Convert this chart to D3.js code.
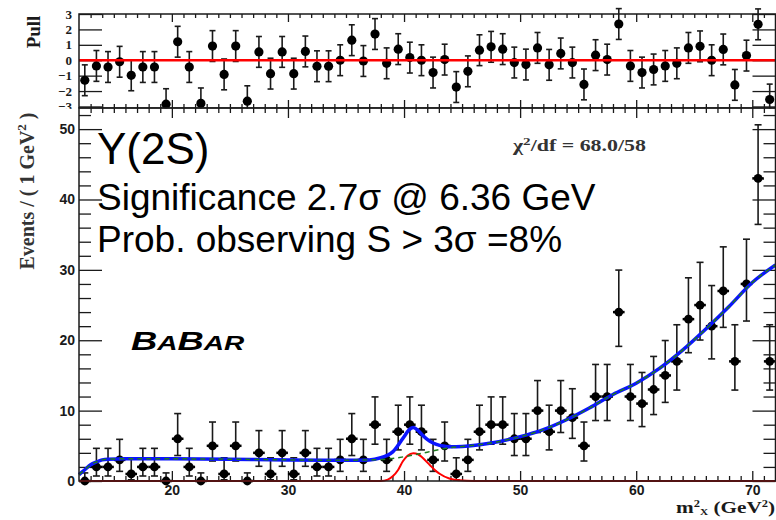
<!DOCTYPE html>
<html>
<head>
<meta charset="utf-8">
<script src="https://cdn.jsdelivr.net/npm/d3@7"></script>
<style>
  body { margin: 0; background: #fff; }
  svg { display: block; }
</style>
</head>
<body>
<div id="chart"></div>
<script>
// data: 1 GeV^2 bins from 12 to 72
var binCenters = [12.5, 13.5, 14.5, 15.5, 16.5, 17.5, 18.5, 19.5, 20.5, 21.5,
                  22.5, 23.5, 24.5, 25.5, 26.5, 27.5, 28.5, 29.5, 30.5, 31.5,
                  32.5, 33.5, 34.5, 35.5, 36.5, 37.5, 38.5, 39.5, 40.5, 41.5,
                  42.5, 43.5, 44.5, 45.5, 46.5, 47.5, 48.5, 49.5, 50.5, 51.5,
                  52.5, 53.5, 54.5, 55.5, 56.5, 57.5, 58.5, 59.5, 60.5, 61.5,
                  62.5, 63.5, 64.5, 65.5, 66.5, 67.5, 68.5, 69.5, 70.5, 71.5];

var events = [0, 2, 2, 3, 1, 2, 2, 0, 6, 2,
              0, 5, 1, 5, 0, 4, 1, 4, 1, 4,
              2, 2, 3, 6, 3, 8, 3, 7, 8, 7,
              3, 5, 1, 3, 7, 8, 8, 6, 6, 10,
              7, 10, 9, 5, 12, 12, 24, 12, 11, 13,
              15, 17, 23, 25, 22, 27, 17, 28, 43, 17];

var pulls = [-1.3, -0.37, -0.44, -0.1, -0.98, -0.44, -0.44, -2.85, 1.2, -0.44,
             -2.8, 0.92, -0.92, 0.92, -2.66, 0.54, -0.87, 0.54, -0.87, 0.57,
             -0.39, -0.39, 0, 1.3, -0.05, 1.7, -0.2, 0.72, 0.17, 0,
             -0.8, 0.04, -1.74, -0.72, 0.65, 0.87, 0.72, -0.15, -0.28, 0.8,
             -0.3, 0.44, -0.15, -1.57, 0.33, 0.04, 2.35, -0.37, -0.8, -0.6,
             -0.37, -0.2, 0.8, 0.9, 0, 0.7, -1.6, 0.3, 2.33, -2.55];

// poisson 68% intervals used for the error bars, keyed by count
var poissonLow = {0: 0, 1: 0.17, 2: 0.71, 3: 1.37, 4: 2.09, 5: 2.84, 6: 3.62, 7: 4.42,
                  8: 5.23, 9: 6.06, 10: 6.89, 11: 7.73, 12: 8.59, 13: 9.44, 15: 11.17,
                  17: 12.92, 22: 17.35, 23: 18.23, 24: 19.13, 25: 20.03, 27: 21.83,
                  28: 22.73, 43: 36.46};
var poissonHigh = {0: 1.15, 1: 3.30, 2: 4.64, 3: 5.92, 4: 7.16, 5: 8.38, 6: 9.58, 7: 10.77,
                   8: 11.95, 9: 13.11, 10: 14.27, 11: 15.42, 12: 16.56, 13: 17.70, 15: 19.96,
                   17: 22.20, 22: 27.77, 23: 28.87, 24: 29.97, 25: 31.07, 27: 33.27,
                   28: 34.36, 43: 50.61};

// fit curves (x, events)
var totalFit = [[12, 0.9], [12.5, 1.6], [13, 2.3], [13.5, 2.7], [14, 3.0], [14.5, 3.1],
                [16, 3.15], [20, 3.15], [25, 3.1], [30, 3.0], [35, 2.95], [37, 3.0],
                [38, 3.3], [38.5, 3.6], [39, 4.1], [39.5, 5.1], [40, 6.3], [40.4, 7.2],
                [40.8, 7.6], [41.2, 7.2], [41.6, 6.5], [42, 5.9], [42.5, 5.4], [43, 5.1],
                [43.5, 4.95], [44, 4.85], [45, 4.9], [47.5, 5.4], [50, 6.3], [52, 7.3],
                [54, 8.7], [56, 10.4], [58, 12.3], [60, 13.9], [62, 16.0], [64, 18.6],
                [66, 21.6], [68, 24.8], [70, 28.2], [72, 30.7]];

var bkgFit = [[12, 0.9], [12.5, 1.6], [13, 2.3], [13.5, 2.7], [14, 3.0], [14.5, 3.1],
              [16, 3.15], [20, 3.15], [25, 3.1], [30, 3.0], [35, 2.95], [37, 3.0],
              [38, 3.05], [39, 3.2], [40, 3.45], [41, 3.75], [42, 4.1], [43, 4.45],
              [44, 4.75], [45, 4.9], [47.5, 5.4], [50, 6.3], [52, 7.3], [54, 8.7],
              [56, 10.4], [58, 12.3], [60, 13.9], [62, 16.0], [64, 18.6], [66, 21.6],
              [68, 24.8], [70, 28.2], [72, 30.7]];

var signalFit = [[12, 0], [38, 0], [38.6, 0.2], [39.05, 0.7], [39.5, 1.6], [39.9, 2.8],
                 [40.3, 3.6], [40.8, 3.95], [41.2, 3.8], [41.6, 3.3], [42.2, 2.3],
                 [42.7, 1.5], [43.1, 1.0], [43.9, 0.35], [44.8, 0.1], [46, 0], [72, 0]];

var xTicks = [20, 30, 40, 50, 60, 70];
var yTicks = [0, 10, 20, 30, 40, 50];
var pullTicks = [-3, -2, -1, 0, 1, 2, 3];

// layout
var svgWidth = 776, svgHeight = 520;
var left = 79, right = 775.5;
var pullTop = 14, pullBottom = 108;
var mainTop = 108, mainBottom = 481;
var sans = 'Liberation Sans, Arial, sans-serif';
var serif = 'Liberation Serif, Times New Roman, serif';
var ink = '#1a1a1a';

var svg = d3.select('#chart')
  .append('svg')
  .attr('width', svgWidth)
  .attr('height', svgHeight);

var x = d3.scaleLinear().domain([12, 72]).range([left, right]);
var py = d3.scaleLinear().domain([-3.1, 3]).range([pullBottom, pullTop]);
var y = d3.scaleLinear().domain([0, 53]).range([mainBottom, mainTop]);
var halfBin = (x(1) - x(0)) / 2;

function styleAxis(g) {
  g.select('.domain').remove();
  g.selectAll('.tick line').attr('stroke', ink).attr('stroke-width', 1.3);
}

var xMinor = d3.range(13, 72).filter(d => d % 10 !== 0);

// ---------- pull panel ----------
var pullG = svg.append('g');

pullG.append('g')
  .attr('transform', `translate(${left},0)`)
  .call(d3.axisLeft(py).tickValues(pullTicks).tickSizeInner(-23).tickSizeOuter(0)
    .tickPadding(7).tickFormat(d3.format('d')))
  .call(styleAxis)
  .attr('font-family', serif).attr('font-size', 13).attr('font-weight', 'bold')
  .selectAll('text').attr('fill', ink);

pullG.append('g')
  .attr('transform', `translate(${right},0)`)
  .call(d3.axisRight(py).tickValues(pullTicks).tickSizeInner(-23).tickSizeOuter(0).tickFormat(''))
  .call(styleAxis);

[[pullTop, d3.axisTop, -8, -4], [pullBottom, d3.axisBottom, -8, -4]].forEach(function(a) {
  pullG.append('g').attr('transform', `translate(0,${a[0]})`)
    .call(a[1](x).tickValues(xTicks).tickSizeInner(a[2]).tickSizeOuter(0).tickFormat(''))
    .call(styleAxis);
  pullG.append('g').attr('transform', `translate(0,${a[0]})`)
    .call(a[1](x).tickValues(xMinor).tickSizeInner(a[3]).tickSizeOuter(0).tickFormat(''))
    .call(styleAxis);
});

var pullBars = pullG.selectAll('.pbar')
  .data(binCenters)
  .enter()
  .append('g')
  .attr('class', 'pbar');

pullBars.append('line')
  .attr('x1', d => x(d)).attr('x2', d => x(d))
  .attr('y1', (d, i) => py(pulls[i] - 1)).attr('y2', (d, i) => py(pulls[i] + 1))
  .attr('stroke', ink).attr('stroke-width', 1.6);
pullBars.append('line')
  .attr('x1', d => x(d) - 3).attr('x2', d => x(d) + 3)
  .attr('y1', (d, i) => py(pulls[i] - 1)).attr('y2', (d, i) => py(pulls[i] - 1))
  .attr('stroke', ink).attr('stroke-width', 1.6);
pullBars.append('line')
  .attr('x1', d => x(d) - 3).attr('x2', d => x(d) + 3)
  .attr('y1', (d, i) => py(pulls[i] + 1)).attr('y2', (d, i) => py(pulls[i] + 1))
  .attr('stroke', ink).attr('stroke-width', 1.6);
pullBars.append('circle')
  .attr('cx', d => x(d))
  .attr('cy', (d, i) => py(pulls[i]))
  .attr('r', 4.6)
  .attr('fill', '#000');

pullG.append('line')
  .attr('x1', left).attr('x2', right)
  .attr('y1', py(0)).attr('y2', py(0))
  .attr('stroke', '#ff0000').attr('stroke-width', 2.5);

pullG.append('rect')
  .attr('x', left).attr('y', pullTop)
  .attr('width', right - left).attr('height', pullBottom - pullTop)
  .attr('fill', 'none').attr('stroke', ink).attr('stroke-width', 1.5);

pullG.append('text')
  .attr('transform', 'translate(40,32) rotate(-90)')
  .attr('text-anchor', 'middle')
  .attr('font-family', serif).attr('font-size', 19).attr('font-weight', 'bold')
  .attr('fill', ink)
  .text('Pull');

// ---------- main panel ----------
svg.append('rect')
  .attr('x', 0).attr('y', mainTop + 0.8)
  .attr('width', svgWidth).attr('height', svgHeight - mainTop)
  .attr('fill', '#fff');

var mainG = svg.append('g');

mainG.append('g')
  .attr('transform', `translate(${left},0)`)
  .call(d3.axisLeft(y).tickValues(yTicks).tickSizeInner(-23).tickSizeOuter(0).tickPadding(4))
  .call(styleAxis)
  .attr('font-family', sans).attr('font-size', 14).attr('font-weight', 'bold')
  .selectAll('text').attr('fill', ink);

var yMinor = d3.range(2, 53, 2).filter(d => d % 10 !== 0);
mainG.append('g')
  .attr('transform', `translate(${left},0)`)
  .call(d3.axisLeft(y).tickValues(yMinor).tickSizeInner(-12).tickSizeOuter(0).tickFormat(''))
  .call(styleAxis);
mainG.append('g')
  .attr('transform', `translate(${right},0)`)
  .call(d3.axisRight(y).tickValues(yTicks).tickSizeInner(-23).tickSizeOuter(0).tickFormat(''))
  .call(styleAxis);
mainG.append('g')
  .attr('transform', `translate(${right},0)`)
  .call(d3.axisRight(y).tickValues(yMinor).tickSizeInner(-12).tickSizeOuter(0).tickFormat(''))
  .call(styleAxis);

mainG.append('g')
  .attr('transform', `translate(0,${mainBottom})`)
  .call(d3.axisBottom(x).tickValues(xTicks).tickSizeInner(-10).tickSizeOuter(0).tickPadding(4))
  .call(styleAxis)
  .attr('font-family', sans).attr('font-size', 14).attr('font-weight', 'bold')
  .selectAll('text').attr('fill', ink);
mainG.append('g')
  .attr('transform', `translate(0,${mainBottom})`)
  .call(d3.axisBottom(x).tickValues(xMinor).tickSizeInner(-5).tickSizeOuter(0).tickFormat(''))
  .call(styleAxis);
mainG.append('g')
  .attr('transform', `translate(0,${mainTop})`)
  .call(d3.axisTop(x).tickValues(xTicks).tickSizeInner(-10).tickSizeOuter(0).tickFormat(''))
  .call(styleAxis);
mainG.append('g')
  .attr('transform', `translate(0,${mainTop})`)
  .call(d3.axisTop(x).tickValues(xMinor).tickSizeInner(-5).tickSizeOuter(0).tickFormat(''))
  .call(styleAxis);

// data points with poisson error bars
var bars = mainG.selectAll('.ebar')
  .data(binCenters)
  .enter()
  .append('g')
  .attr('class', 'ebar');

bars.append('line')
  .attr('x1', d => x(d)).attr('x2', d => x(d))
  .attr('y1', (d, i) => y(poissonLow[events[i]]))
  .attr('y2', (d, i) => y(poissonHigh[events[i]]))
  .attr('stroke', ink).attr('stroke-width', 1.6);
bars.append('line')
  .attr('x1', d => x(d) - 3.5).attr('x2', d => x(d) + 3.5)
  .attr('y1', (d, i) => y(poissonHigh[events[i]]))
  .attr('y2', (d, i) => y(poissonHigh[events[i]]))
  .attr('stroke', ink).attr('stroke-width', 1.6);
bars.append('line')
  .attr('x1', d => x(d) - 3.5).attr('x2', d => x(d) + 3.5)
  .attr('y1', (d, i) => y(poissonLow[events[i]]))
  .attr('y2', (d, i) => y(poissonLow[events[i]]))
  .attr('stroke', ink).attr('stroke-width', 1.6);
bars.append('line')
  .attr('x1', d => x(d) - halfBin).attr('x2', d => x(d) + halfBin)
  .attr('y1', (d, i) => y(events[i])).attr('y2', (d, i) => y(events[i]))
  .attr('stroke', '#000').attr('stroke-width', 2.5);
bars.append('circle')
  .attr('cx', d => x(d))
  .attr('cy', (d, i) => y(events[i]))
  .attr('r', 4.4)
  .attr('fill', '#000');

// fit curves
var curve = d3.line()
  .x(d => x(d[0]))
  .y(d => y(d[1]))
  .curve(d3.curveMonotoneX);

mainG.append('path')
  .attr('d', curve(signalFit))
  .attr('fill', 'none').attr('stroke', '#ff0000').attr('stroke-width', 2);

mainG.append('path')
  .attr('d', curve(totalFit))
  .attr('fill', 'none').attr('stroke', '#0a14ff').attr('stroke-width', 3.5);

mainG.append('path')
  .attr('d', curve(bkgFit))
  .attr('fill', 'none').attr('stroke', '#1f7a1f').attr('stroke-width', 1.5)
  .attr('stroke-dasharray', '5,4');

mainG.append('rect')
  .attr('x', left).attr('y', mainTop)
  .attr('width', right - left).attr('height', mainBottom - mainTop)
  .attr('fill', 'none').attr('stroke', ink).attr('stroke-width', 1.5);

// axis titles
var yTitle = mainG.append('text')
  .attr('transform', 'translate(34,191) rotate(-90)')
  .attr('text-anchor', 'middle')
  .attr('font-family', serif).attr('font-size', 20).attr('font-weight', 'bold')
  .attr('fill', '#333');
yTitle.append('tspan').text('Events / ( 1 GeV');
yTitle.append('tspan').attr('font-size', 13).attr('dy', -8).text('2');
yTitle.append('tspan').attr('dy', 8).text(' )');

var xTitle = mainG.append('g')
  .attr('transform', 'translate(676,513) scale(1.25,1)')
  .append('text')
  .attr('font-family', serif).attr('font-size', 17).attr('font-weight', 'bold')
  .attr('fill', ink);
xTitle.append('tspan').text('m');
xTitle.append('tspan').attr('font-size', 10).attr('dy', -6).text('2');
xTitle.append('tspan').attr('font-size', 9).attr('dy', 8).text('X');
xTitle.append('tspan').attr('dy', -2).text(' (GeV');
xTitle.append('tspan').attr('font-size', 10).attr('dy', -6).text('2');
xTitle.append('tspan').attr('dy', 6).text(')');

// fit quality
var chi = mainG.append('g')
  .attr('transform', 'translate(513,151) scale(1.37,1)')
  .append('text')
  .attr('font-family', serif).attr('font-size', 16).attr('font-weight', 'bold')
  .attr('fill', '#333');
chi.append('tspan').text('χ');
chi.append('tspan').attr('font-size', 11).attr('dy', -6).text('2');
chi.append('tspan').attr('dy', 6).text('/df = 68.0/58');

// annotations
mainG.append('text')
  .attr('x', 97).attr('y', 164)
  .attr('font-family', sans).attr('font-size', 44)
  .attr('fill', '#000')
  .text('Y(2S)');

mainG.append('text')
  .attr('x', 97).attr('y', 210)
  .attr('font-family', sans).attr('font-size', 37)
  .attr('fill', '#000')
  .text('Significance 2.7σ @ 6.36 GeV');

mainG.append('text')
  .attr('x', 97).attr('y', 252)
  .attr('font-family', sans).attr('font-size', 37)
  .attr('fill', '#000')
  .text('Prob. observing S > 3σ =8%');

var babar = mainG.append('g')
  .attr('transform', 'translate(131,350) scale(1.4,1)')
  .append('text')
  .attr('font-family', sans).attr('font-weight', 'bold').attr('font-style', 'italic')
  .attr('fill', '#000');
babar.append('tspan').attr('font-size', 26).text('B');
babar.append('tspan').attr('font-size', 20).text('A');
babar.append('tspan').attr('font-size', 26).text('B');
babar.append('tspan').attr('font-size', 20).text('AR');
</script>
</body>
</html>
